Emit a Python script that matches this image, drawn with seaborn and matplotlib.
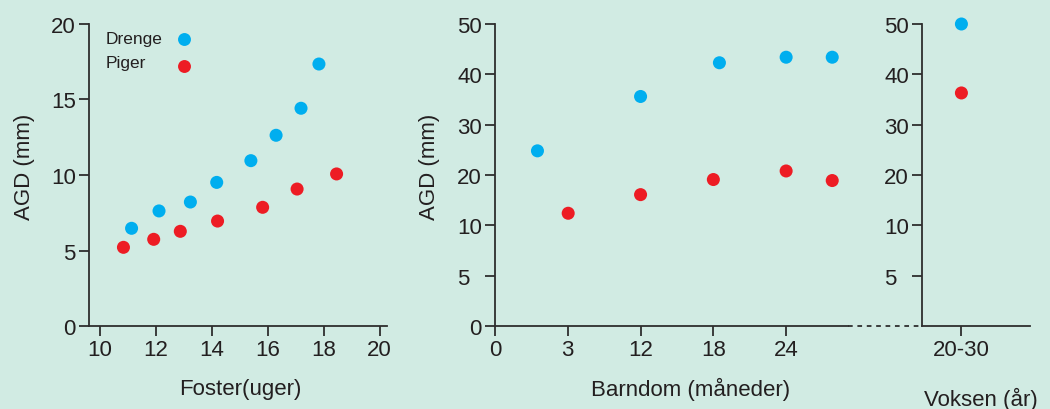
import numpy as np
import pandas as pd
import matplotlib
matplotlib.use("Agg")
import matplotlib.pyplot as plt
import seaborn as sns
from matplotlib.lines import Line2D
from matplotlib.transforms import ScaledTranslation

# ---------------- data ----------------
groups = ["Drenge", "Piger"]
colors = ["#00AEEF", "#ED1C24"]

fetal_weeks_boys = [11.14, 12.12, 13.24, 14.18, 15.40, 16.30, 17.19, 17.83]
fetal_agd_boys = [6.47, 7.62, 8.21, 9.51, 10.95, 12.63, 14.42, 17.35]
fetal_weeks_girls = [10.85, 11.93, 12.88, 14.21, 15.82, 17.05, 18.46]
fetal_agd_girls = [5.21, 5.74, 6.27, 6.95, 7.86, 9.07, 10.07]

infant_months_boys = [1.75, 12.0, 18.5, 24.0, 27.8]
infant_agd_boys = [24.8, 35.6, 42.3, 43.4, 43.4]
infant_months_girls = [3.05, 12.0, 18.0, 24.0, 27.8]
infant_agd_girls = [12.4, 16.1, 19.1, 20.8, 18.9]

adult_group = ["20-30"]
adult_agd_boys = [50.0]
adult_agd_girls = [36.3]

fetal_xticks = [10, 12, 14, 16, 18, 20]
fetal_yticks = [0, 5, 10, 15, 20]
infant_xticks = [0, 3, 12, 18, 24]
agd_ticks = [0, 5, 10, 20, 30, 40, 50]
adult_yticks = [5, 10, 20, 30, 40, 50]

# piecewise axis scales (evenly spaced ticks)
month_knots = [-3, 0, 3, 12, 18, 24, 30, 36]
month_pos = [-1, 0, 1, 2, 3, 4, 5, 6]
agd_knots = [-5, 0, 5, 10, 20, 30, 40, 50, 60]
agd_pos = [-1, 0, 1, 2, 3, 4, 5, 6, 7]


def m_fwd(v):
    return np.interp(v, month_knots, month_pos)


def m_inv(p):
    return np.interp(p, month_pos, month_knots)


def a_fwd(v):
    return np.interp(v, agd_knots, agd_pos)


def a_inv(p):
    return np.interp(p, agd_pos, agd_knots)


def frame(xb, yb, xg, yg, xname):
    return pd.DataFrame({
        xname: list(xb) + list(xg),
        "AGD": list(yb) + list(yg),
        "Køn": [groups[0]] * len(xb) + [groups[1]] * len(xg),
    })


fetal = frame(fetal_weeks_boys, fetal_agd_boys, fetal_weeks_girls, fetal_agd_girls, "uger")
infant = frame(infant_months_boys, infant_agd_boys, infant_months_girls, infant_agd_girls, "mdr")
adult = frame(adult_group, adult_agd_boys, adult_group, adult_agd_girls, "aar")

# ---------------- style ----------------
BG = "#D1EBE3"
INK = "#231F20"
LINE = "#2E2E2E"
sns.set_style("ticks")
plt.rcParams.update({
    "font.family": ["Liberation Sans", "DejaVu Sans"],
    "font.size": 16,
    "axes.facecolor": BG,
    "figure.facecolor": BG,
    "savefig.facecolor": BG,
    "axes.edgecolor": LINE,
    "axes.linewidth": 1.3,
    "xtick.color": LINE,
    "ytick.color": LINE,
    "xtick.labelcolor": INK,
    "ytick.labelcolor": INK,
    "text.color": INK,
    "axes.labelcolor": INK,
})

palette = dict(zip(groups, colors))
W, H = 1050, 410
fig = plt.figure(figsize=(10.5, 4.1), dpi=100)


def box(x0, x1, ytop, ybot):
    return [x0 / W, 1 - ybot / H, (x1 - x0) / W, (ybot - ytop) / H]


ax1 = fig.add_axes(box(89, 387, 25, 327))
ax2 = fig.add_axes(box(495, 848, 25, 327))
ax3 = fig.add_axes(box(922, 1030, 25, 327))

kw = dict(hue="Køn", palette=palette, s=88, linewidth=0, legend=False, zorder=3)
sns.scatterplot(data=fetal, x="uger", y="AGD", ax=ax1, **kw)
sns.scatterplot(data=infant, x="mdr", y="AGD", ax=ax2, **kw)
sns.scatterplot(data=adult, x="aar", y="AGD", ax=ax3, **kw)

for ax in (ax1, ax2, ax3):
    for coll in ax.collections:
        coll.set_clip_on(False)
    for s in ("top", "right"):
        ax.spines[s].set_visible(False)
    ax.spines["left"].set_linewidth(1.3)
    ax.spines["bottom"].set_linewidth(1.3)
    ax.tick_params(axis="both", direction="out", length=7.5, width=1.3, labelsize=16)
    ax.tick_params(axis="y", pad=2)
    ax.tick_params(axis="x", pad=1.5)

# left panel
ax1.set_xlim(9.62, 20.26)
ax1.set_ylim(0, 20)
ax1.set_xticks(fetal_xticks)
ax1.set_yticks(fetal_yticks)
ax1.set_xlabel("Foster(uger)", fontsize=16)
ax1.set_ylabel("AGD (mm)", fontsize=16)
ax1.xaxis.set_label_coords(0.507, -0.172)
ax1.yaxis.set_label_coords(-0.18, 0.53)

# middle panel
ax2.set_xscale("function", functions=(m_fwd, m_inv))
ax2.set_yscale("function", functions=(a_fwd, a_inv))
ax2.set_xlim(0, 29.1)
ax2.set_ylim(0, 50)
ax2.set_xticks(infant_xticks)
ax2.set_xticklabels([str(t) for t in infant_xticks])
ax2.set_yticks(agd_ticks)
ax2.set_yticklabels([str(t) for t in agd_ticks])
ax2.minorticks_off()
ax2.set_xlabel("Barndom (måneder)", fontsize=16)
ax2.set_ylabel("AGD (mm)", fontsize=16)
ax2.xaxis.set_label_coords(0.555, -0.17)
ax2.yaxis.set_label_coords(-0.155, 0.53)

# right panel
ax3.set_yscale("function", functions=(a_fwd, a_inv))
ax3.set_ylim(0, 50)
ax3.set_xlim(-0.5, 0.87)
ax3.set_xticks([0])
ax3.set_xticklabels(adult_group)
ax3.set_yticks(adult_yticks)
ax3.set_yticklabels([str(t) for t in adult_yticks])
ax3.minorticks_off()
ax3.set_xlabel("Voksen (år)", fontsize=16)
ax3.set_ylabel("")
ax3.xaxis.set_label_coords(0.546, -0.2)

# broken-axis dashed connector
fig.add_artist(Line2D([848 / W, 921 / W], [1 - 327 / H] * 2, transform=fig.transFigure,
                      linestyle=(0, (2.6, 2.6)), linewidth=1.3, color=LINE))

# legend: labels column + marker column
blank = [Line2D([], [], linestyle="none") for _ in groups]
leg_text = ax1.legend(blank, groups, loc="upper left", bbox_to_anchor=(0.057, 0.977),
                      frameon=False, handlelength=0, handletextpad=0, borderpad=0,
                      borderaxespad=0, labelspacing=0.53, fontsize=12.5)
ax1.add_artist(leg_text)
dots = [Line2D([], [], linestyle="none", marker="o", markersize=9.3,
               markerfacecolor=c, markeredgewidth=0) for c in colors]
ax1.legend(dots, ["", ""], loc="upper left", bbox_to_anchor=(0.2896, 0.972),
           frameon=False, handlelength=1.0, handletextpad=0, borderpad=0,
           borderaxespad=0, labelspacing=0.73, fontsize=12.5)

# left-aligned single digit "5" on the right-hand axes
for ax, ticks in ((ax2, agd_ticks), (ax3, adult_yticks)):
    for lab, val in zip(ax.get_yticklabels(), ticks):
        if val == 5:
            lab.set_horizontalalignment("left")
            lab.set_transform(lab.get_transform()
                              + ScaledTranslation(-17.8 / 72, 0, fig.dpi_scale_trans))

fig.savefig("out.png", dpi=100)
